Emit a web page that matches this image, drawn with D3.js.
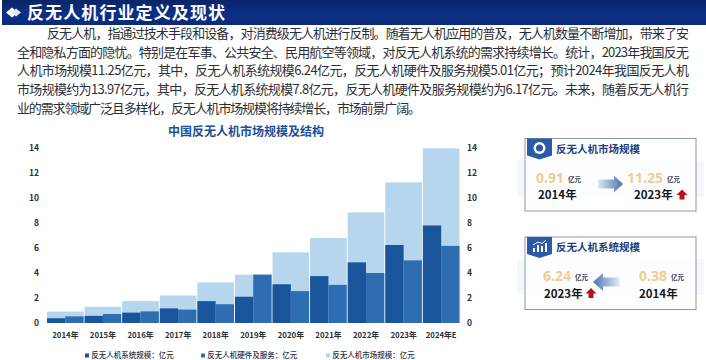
<!DOCTYPE html>
<html>
<head>
<meta charset="utf-8">
<script src="https://cdn.jsdelivr.net/npm/d3@7"></script>
<style>
    html, body { margin: 0; padding: 0; background: #fff; overflow: hidden; }
    svg { display: block; font-family: "Noto Sans CJK SC", sans-serif; }
    .axis text { font-weight: 700; fill: #2a2f3a; font-family: "Noto Sans CJK SC", sans-serif; }
    .axis-y text { font-size: 8.5px; }
    .axis-x text { font-size: 7.8px; }
    .axis path, .axis line { display: none; }
</style>
</head>
<body>
<div id="chart"></div>
<script>
const pageTitle = "反无人机行业定义及现状";
const bodyLines = [
    "反无人机，指通过技术手段和设备，对消费级无人机进行反制。随着无人机应用的普及，无人机数量不断增加，带来了安",
    "全和隐私方面的隐忧。特别是在军事、公共安全、民用航空等领域，对反无人机系统的需求持续增长。统计，2023年我国反无",
    "人机市场规模11.25亿元，其中，反无人机系统规模6.24亿元，反无人机硬件及服务规模5.01亿元；预计2024年我国反无人机",
    "市场规模约为13.97亿元，其中，反无人机系统规模7.8亿元，反无人机硬件及服务规模约为6.17亿元。未来，随着反无人机行",
    "业的需求领域广泛且多样化，反无人机市场规模将持续增长，市场前景广阔。"
];
const chartTitle = "中国反无人机市场规模及结构";
const years = ["2014年", "2015年", "2016年", "2017年", "2018年", "2019年", "2020年", "2021年", "2022年", "2023年", "2024年E"];
const systemValues = [0.38, 0.57, 0.83, 1.17, 1.75, 2.1, 3.1, 3.75, 4.85, 6.24, 7.8];
const hardwareValues = [0.53, 0.72, 0.93, 1.07, 1.5, 3.87, 2.55, 3.05, 4.0, 5.01, 6.17];
const marketValues = [0.91, 1.3, 1.75, 2.2, 3.25, 3.87, 5.65, 6.8, 8.85, 11.25, 13.97];
const yTicks = [0, 2, 4, 6, 8, 10, 12, 14];
const legendLabels = ["反无人机系统规模：亿元", "反无人机硬件及服务：亿元", "反无人机市场规模：亿元"];

const colSystem = "#1a559b", colHardware = "#2f6db3", colMarket = "#b5d6ec";

const svg = d3.select("#chart").append("svg")
    .attr("width", 706)
    .attr("height", 360);

const defs = svg.append("defs");

const headGrad = defs.append("linearGradient").attr("id", "head-grad").attr("x1", 0).attr("x2", 0).attr("y1", 0).attr("y2", 1);
headGrad.append("stop").attr("offset", "0%").attr("stop-color", "#0a2468");
headGrad.append("stop").attr("offset", "55%").attr("stop-color", "#0d2f86");
headGrad.append("stop").attr("offset", "100%").attr("stop-color", "#0b2a78");

const arrowRight = defs.append("linearGradient").attr("id", "arrow-right");
arrowRight.append("stop").attr("offset", "0%").attr("stop-color", "#dfe7f3");
arrowRight.append("stop").attr("offset", "100%").attr("stop-color", "#4c6fb0");

const arrowLeft = defs.append("linearGradient").attr("id", "arrow-left");
arrowLeft.append("stop").attr("offset", "0%").attr("stop-color", "#4c6fb0");
arrowLeft.append("stop").attr("offset", "100%").attr("stop-color", "#e6edf6");

// Header
svg.append("rect").attr("x", 2).attr("y", 0).attr("width", 704).attr("height", 25).attr("fill", "url(#head-grad)");
svg.append("path").attr("d", "M6,12.5 L12,7.5 L18,12.5 L12,17.5 Z").attr("fill", "#fff");
svg.append("path").attr("d", "M12,12.5 L16,8.5 L21,12.5 L16,16.5 Z").attr("fill", "#dfe8f5");
svg.append("text").attr("x", 27).attr("y", 18.5)
    .attr("font-size", 17).attr("font-weight", 700).attr("fill", "#fff")
    .attr("textLength", 198).text(pageTitle);

// Paragraph
const lineLeft = [47, 17, 17, 17, 17];
const lineRight = [689, 689, 689, 689, 421];
svg.selectAll(".body-line").data(bodyLines).enter().append("text")
    .attr("class", "body-line")
    .attr("x", (d, i) => lineLeft[i])
    .attr("y", (d, i) => 38 + i * 18.7)
    .attr("font-size", 13)
    .attr("fill", "#2c2f36")
    .attr("textLength", (d, i) => lineRight[i] - lineLeft[i])
    .attr("lengthAdjust", "spacing")
    .text(d => d);

// Chart
svg.append("text").attr("x", 246).attr("y", 135.5)
    .attr("text-anchor", "middle")
    .attr("font-size", 12).attr("font-weight", 700).attr("fill", "#1d4f94")
    .text(chartTitle);

const x = d3.scaleBand().domain(years).range([47, 459.5]).paddingInner(0.025).paddingOuter(0);
const xInner = d3.scaleBand().domain(["system", "hardware"]).range([0, x.bandwidth()]);
const y = d3.scaleLinear().domain([0, 14]).range([323, 148]);

svg.append("g").attr("class", "axis axis-y").attr("transform", "translate(41,0)")
    .call(d3.axisLeft(y).tickValues(yTicks).tickSize(0).tickPadding(2));
svg.append("g").attr("class", "axis axis-y").attr("transform", "translate(465,0)")
    .call(d3.axisRight(y).tickValues(yTicks).tickSize(0).tickPadding(2));
svg.append("g").attr("class", "axis axis-x").attr("transform", "translate(0,332)")
    .call(d3.axisBottom(x).tickSize(0).tickPadding(0));

const groups = svg.selectAll(".year").data(years).enter().append("g")
    .attr("class", "year")
    .attr("transform", d => `translate(${x(d)},0)`);

groups.append("rect")
    .attr("width", x.bandwidth())
    .attr("y", (d, i) => y(marketValues[i]))
    .attr("height", (d, i) => y(0) - y(marketValues[i]))
    .attr("fill", colMarket);

groups.append("rect")
    .attr("x", xInner("system"))
    .attr("width", xInner.bandwidth())
    .attr("y", (d, i) => y(systemValues[i]))
    .attr("height", (d, i) => y(0) - y(systemValues[i]))
    .attr("fill", colSystem);

groups.append("rect")
    .attr("x", xInner("hardware"))
    .attr("width", xInner.bandwidth())
    .attr("y", (d, i) => y(hardwareValues[i]))
    .attr("height", (d, i) => y(0) - y(hardwareValues[i]))
    .attr("fill", colHardware);

// Legend
const legendX = [85, 201, 326];
const legendCol = [colSystem, colHardware, colMarket];
const legend = svg.selectAll(".legend").data(legendLabels).enter().append("g")
    .attr("class", "legend")
    .attr("transform", (d, i) => `translate(${legendX[i]},355.5)`);
legend.append("rect").attr("y", -2).attr("width", 4).attr("height", 4).attr("fill", (d, i) => legendCol[i]);
legend.append("text").attr("x", 6.3).attr("y", 2.4)
    .attr("font-size", 7.5).attr("font-weight", 500).attr("fill", "#30343c")
    .text(d => d);

// Side panels
function panel(top, title, arrowDir, items) {
    const g = svg.append("g").attr("transform", `translate(525,${top})`);
    g.append("rect").attr("x", -8).attr("y", 22).attr("width", 187).attr("height", 36).attr("fill", "#f4f8fc");
    g.append("rect").attr("width", 171).attr("height", 72.5)
        .attr("fill", "#fff").attr("fill-opacity", 0.75)
        .attr("stroke", "#8b97ad").attr("stroke-width", 1);
    g.append("path").attr("d", "M2,0 H27 V17 L14.5,21 L2,17 Z").attr("fill", "#2a5aa8");
    g.append("text").attr("x", 31).attr("y", 14)
        .attr("font-size", 10.5).attr("font-weight", 700).attr("fill", "#1c3f7c")
        .text(title);

    items.forEach(it => {
        g.append("text").attr("x", it.valX).attr("y", 44)
            .attr("font-size", 14).attr("font-weight", 700).attr("fill", "#f3cb92")
            .attr("font-family", "'Noto Sans', sans-serif").text(it.value);
        g.append("text").attr("x", it.unitX).attr("y", 43)
            .attr("font-size", 6.5).attr("font-weight", 700).attr("fill", "#3c4452").text("亿元");
        g.append("text").attr("x", it.yearX).attr("y", 60.5)
            .attr("font-size", 11.5).attr("font-weight", 700).attr("fill", "#15181f").text(it.year);
    });

    const upX = arrowDir > 0 ? 157 : 66;
    g.append("path")
        .attr("transform", `translate(${upX},56.5)`)
        .attr("d", "M0,-5.5 L5.5,0 H2.5 V4.5 H-2.5 V0 H-5.5 Z")
        .attr("fill", "#b3141c");

    g.append("path")
        .attr("d", arrowDir > 0
            ? "M73,41 H89 V37 L98,45.5 L89,54 V50 H73 Z"
            : "M68,45 L78,36 V40.5 H95 V49.5 H78 V54 Z")
        .attr("fill", arrowDir > 0 ? "url(#arrow-right)" : "url(#arrow-left)");

    return g;
}

const p1 = panel(138.5, "反无人机市场规模", 1, [
    { value: "0.91", year: "2014年", valX: 11, unitX: 43, yearX: 13 },
    { value: "11.25", year: "2023年", valX: 102, unitX: 142, yearX: 109 }
]);
p1.append("circle").attr("cx", 14.5).attr("cy", 9.5).attr("r", 6).attr("fill", "#fff");
p1.append("circle").attr("cx", 14.5).attr("cy", 9.5).attr("r", 3.5).attr("fill", "#2a5aa8");

const p2 = panel(237, "反无人机系统规模", -1, [
    { value: "6.24", year: "2023年", valX: 18, unitX: 50, yearX: 19 },
    { value: "0.38", year: "2014年", valX: 114, unitX: 146, yearX: 114 }
]);
p2.append("path").attr("d", "M8,15 V11 H10 V15 Z M12,15 V8 H14 V15 Z M16,15 V9 H18 V15 Z M20,15 V6 H22 V15 Z").attr("fill", "#fff");
p2.append("path").attr("d", "M8,8 L13,5 L17,6.5 L21,3").attr("fill", "none").attr("stroke", "#fff").attr("stroke-width", 1);
</script>
</body>
</html>
